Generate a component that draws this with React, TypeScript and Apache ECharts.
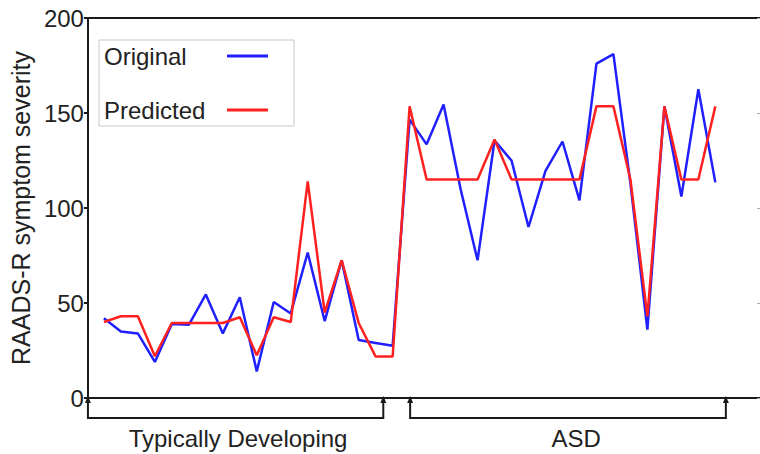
import React, { useEffect, useRef } from 'react';
import * as echarts from 'echarts';

// Group labels
const groupNames = ['Typically Developing', 'ASD'];

// Typically developing participants (RAADS-R scores)
const tdOriginal = [42, 35, 34, 19, 39, 38.5, 54.5, 34, 53, 14, 50.5, 44.5, 76.5, 40.5, 72.5, 30.5, 29, 27.5];
const tdPredicted = [40, 43, 43, 22, 39.5, 39.5, 39.5, 39.5, 42.5, 22.5, 42.5, 40, 114, 45, 72.5, 39.5, 21.8, 21.8];

// ASD participants
const asdOriginal = [146.5, 133.5, 154.5, 110, 72.5, 135.5, 125, 90, 119.5, 135, 104, 176, 181, 113, 36, 153.5, 106, 162.5, 113.5];
const asdPredicted = [153.5, 115, 115, 115, 115, 136, 115, 115, 115, 115, 115, 153.5, 153.5, 115, 43, 153.5, 115, 115, 153.5];

// Y axis ticks
const yTicks = [0, 50, 100, 150, 200];

// Bracket spans along the participant axis: [start, end, labelCenter]
const bracketSpans = [
  [0.06, 17.45, 8.9],
  [19.03, 37.62, 28.8],
];

const FONT = '"Liberation Sans", Arial, Helvetica, sans-serif';
const INK = '#1a1a1a';

export default function App() {
  const ref = useRef<HTMLDivElement>(null);

  useEffect(() => {
    if (!ref.current) return;
    const chart = echarts.init(ref.current, undefined, { renderer: 'svg' });
    const original = [...tdOriginal, ...asdOriginal];
    const predicted = [...tdPredicted, ...asdPredicted];
    const toPoints = (arr: number[]) => arr.map((v, i) => [i + 1, v]);
    const xMin = 0.06;
    const xMax = 39.63;

    const hiddenX = (pos: 'top' | 'bottom') => ({
      type: 'value',
      position: pos,
      min: xMin,
      max: xMax,
      axisLine: { show: true, onZero: false, lineStyle: { color: INK, width: 2 } },
      axisTick: { show: false },
      axisLabel: { show: false },
      splitLine: { show: false },
    });

    chart.setOption({
      animation: false,
      grid: { left: 84, top: 18, right: 0, bottom: 56, containLabel: false },
      xAxis: [hiddenX('bottom'), hiddenX('top')],
      yAxis: [
        {
          type: 'value',
          min: yTicks[0],
          max: yTicks[yTicks.length - 1],
          interval: yTicks[1] - yTicks[0],
          name: 'RAADS-R symptom severity',
          nameLocation: 'middle',
          nameGap: 40,
          nameTextStyle: { fontSize: 25, color: '#222', fontFamily: FONT },
          axisLine: { show: true, onZero: false, lineStyle: { color: INK, width: 2 } },
          axisTick: { show: true, length: 4, lineStyle: { color: INK, width: 2 } },
          axisLabel: { fontSize: 24, color: '#222', margin: 4, fontFamily: FONT },
          splitLine: { show: false },
        },
        {
          type: 'value',
          position: 'right',
          min: yTicks[0],
          max: yTicks[yTicks.length - 1],
          interval: yTicks[1] - yTicks[0],
          axisLine: { show: false },
          axisTick: { show: true, inside: true, length: 3, lineStyle: { color: '#aaa', width: 1 } },
          axisLabel: { show: false },
          splitLine: { show: false },
        },
      ],
      legend: {
        left: 99,
        top: 40,
        orient: 'vertical',
        align: 'right',
        icon: 'rect',
        itemWidth: 41,
        itemHeight: 3,
        itemGap: 26,
        padding: [2, 26, 2, 5],
        borderColor: '#c8c8c8',
        borderWidth: 1,
        backgroundColor: '#fff',
        formatter: '{a|{name}}',
        textStyle: {
          fontSize: 24,
          color: '#222',
          fontFamily: FONT,
          lineHeight: 28,
          rich: {
            a: { width: 118, align: 'left', fontSize: 24, color: '#222', fontFamily: FONT, lineHeight: 28 },
          },
        },
        data: ['Original', 'Predicted'],
      },
      series: [
        {
          name: 'Original',
          type: 'line',
          data: toPoints(original),
          symbol: 'none',
          color: '#2020ff',
          lineStyle: { color: '#2020ff', width: 2.5 },
          z: 2,
        },
        {
          name: 'Predicted',
          type: 'line',
          data: toPoints(predicted),
          symbol: 'none',
          color: '#ff2020',
          lineStyle: { color: '#ff2020', width: 2.5 },
          z: 3,
        },
      ],
    });

    const y0 = chart.convertToPixel({ yAxisIndex: 0 }, 0) as number;
    const drop = 20;
    const graphics: any[] = [];
    bracketSpans.forEach((span, gi) => {
      const x1 = chart.convertToPixel({ xAxisIndex: 0 }, span[0]) as number;
      const x2 = chart.convertToPixel({ xAxisIndex: 0 }, span[1]) as number;
      const xc = chart.convertToPixel({ xAxisIndex: 0 }, span[2]) as number;
      graphics.push({
        type: 'polyline',
        shape: { points: [[x1, y0], [x1, y0 + drop], [x2, y0 + drop], [x2, y0]] },
        style: { stroke: INK, lineWidth: 2, fill: 'none' },
        silent: true,
      });
      [x1, x2].forEach((x) => {
        graphics.push({
          type: 'polygon',
          shape: { points: [[x - 3, y0 + 5], [x + 3, y0 + 5], [x, y0 - 2]] },
          style: { fill: INK },
          silent: true,
        });
      });
      graphics.push({
        type: 'text',
        x: xc,
        y: y0 + 40,
        style: {
          text: groupNames[gi],
          fontSize: 24,
          fontFamily: FONT,
          fill: '#222',
          textAlign: 'center',
          textVerticalAlign: 'middle',
        },
        silent: true,
      });
    });
    chart.setOption({ graphic: graphics });

    return () => chart.dispose();
  }, []);

  return (
    <div
      ref={ref}
      style={{ position: 'fixed', left: 0, top: 0, width: 760, height: 454, background: '#fff' }}
    />
  );
}
